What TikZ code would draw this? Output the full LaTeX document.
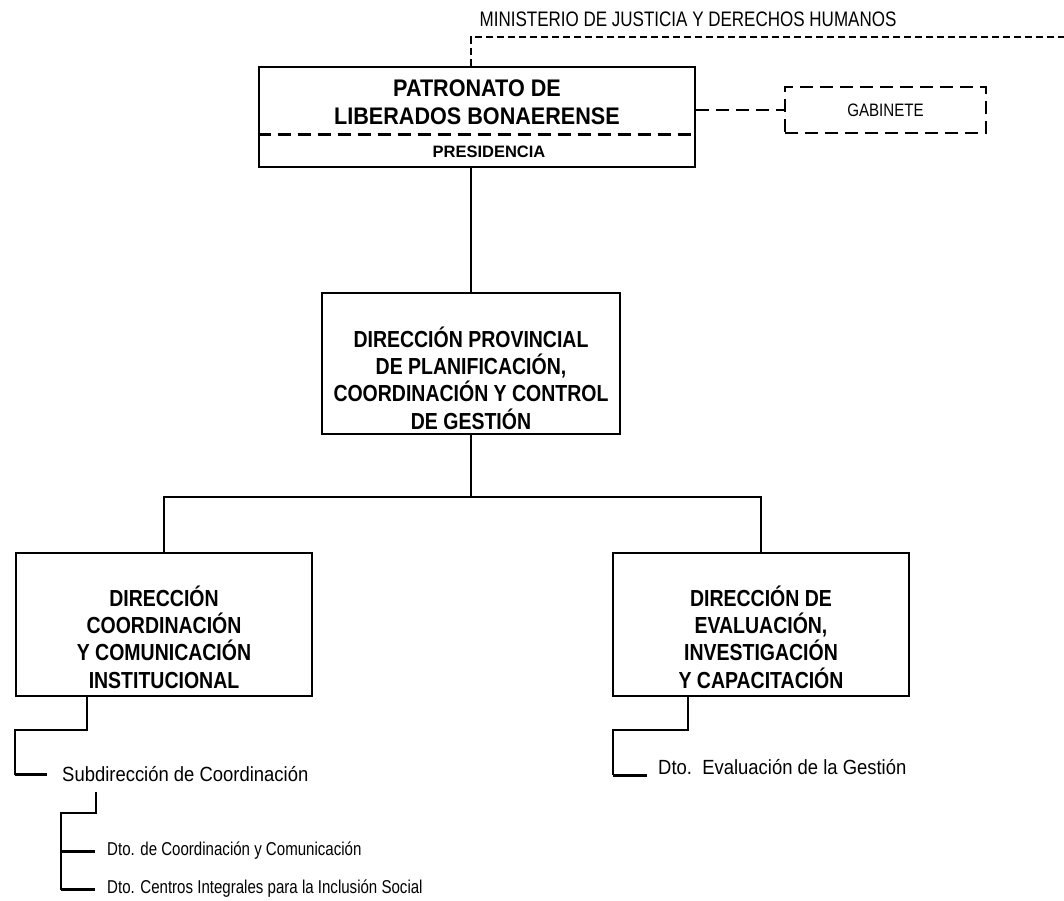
\documentclass[tikz,border=0pt]{standalone}
\usepackage{fontspec}
\setmainfont{Liberation Sans}
\newfontfamily\narrowfont[FakeStretch=0.84]{Liberation Sans}
\newfontfamily\slimfont[FakeStretch=0.81]{Liberation Sans}
\newfontfamily\semifont[FakeStretch=0.9]{Liberation Sans}
\usetikzlibrary{positioning,calc}

\begin{document}
\begin{tikzpicture}[x=1pt,y=-1pt,
  mybox/.style={draw,line width=2.6pt,inner sep=0pt},
  mytitle/.style={align=center,inner sep=0pt,font=\narrowfont\bfseries\fontsize{23.2}{27.3}\selectfont},
  myunit/.style={anchor=west,inner ysep=0pt,inner xsep=15pt,font=\semifont\fontsize{20.5}{24}\selectfont},
  mydto/.style={anchor=west,inner ysep=0pt,inner xsep=12pt,font=\slimfont\fontsize{18.6}{22}\selectfont},
  myline/.style={line width=1.3pt},
  mystub/.style={line width=3pt},
  mydash/.style={line width=2.6pt,dash pattern=on 13pt off 7pt},
  mythin/.style={line width=1.3pt,dash pattern=on 7pt off 4pt},
 ]
\useasboundingbox (0,0) rectangle (1064,900);

% ministerio
\node[inner sep=0pt,font=\slimfont\fontsize{21}{25}\selectfont] (M) at (688,19) {MINISTERIO DE JUSTICIA Y DERECHOS HUMANOS};
\coordinate (m0) at (471,37);
\coordinate (m1) at (1064,37);

% patronato
\node[mybox,minimum width=436,minimum height=100] (P) at (477,117) {};
\node[inner sep=0pt,align=center,font=\semifont\bfseries\fontsize{24}{28}\selectfont] (Pt) at (477,102) {PATRONATO DE\\LIBERADOS BONAERENSE};
\node[inner sep=0pt,font=\bfseries\fontsize{16.5}{20}\selectfont] (Pr) at (489,152) {PRESIDENCIA};
\draw[mydash] ($(P.north west)+(0,69)$) -- ($(P.north east)+(0,69)$);

\node[draw,mydash,minimum width=201,minimum height=46,inner sep=0pt,
  font=\narrowfont\fontsize{18}{22}\selectfont] (G) at (885.5,110) {GABINETE};

% direcciones
\node[mybox,minimum width=298,minimum height=141] (D) at (471,363.5) {};
\node[mytitle,yshift=-14.5pt] (Dt) at (D.center) {DIRECCIÓN PROVINCIAL\\DE PLANIFICACIÓN,\\COORDINACIÓN Y CONTROL\\DE GESTIÓN};

\node[mybox,minimum width=296,minimum height=143] (L) at (164,624.5) {};
\node[mytitle,yshift=-12.5pt] (Lt) at (L.center) {DIRECCIÓN\\COORDINACIÓN\\Y COMUNICACIÓN\\INSTITUCIONAL};

\node[mybox,minimum width=296,minimum height=143] (R) at (761,624.5) {};
\node[mytitle,yshift=-12.5pt] (Rt) at (R.center) {DIRECCIÓN DE\\EVALUACIÓN,\\INVESTIGACIÓN\\Y CAPACITACIÓN};

% dependencias
\node[myunit] (S) at (47,774) {Subdirección de Coordinación};
\node[mydto] (T1) at (95,851) {Dto. de Coordinación y Comunicación};
\node[mydto] (T2) at (95,889) {Dto. Centros Integrales para la Inclusión Social};
\node[myunit,inner xsep=11pt] (E) at (647,767) {Dto.\ \ Evaluación de la Gestión};

\coordinate (bus) at (471,497);
\coordinate (l1) at (87,730);
\coordinate (l2) at (15,730);
\coordinate (s0) at (96,792);
\coordinate (s1) at (96,813);
\coordinate (s2) at (61,813);
\coordinate (r1) at (688,730);
\coordinate (r2) at (613,730);
\coordinate (r3) at (613,775);

\draw[mythin] (P.north -| m0) -- (m0) -- (m1);
\draw[mydash] (G.west -| P.east) -- (G.west);
\draw[myline] (D.north) -- (D.north |- P.south);
\draw[myline] (D.south) -- (bus);
\draw[myline] (L.north) |- (bus) -| (R.north);

\draw[myline] (L.south -| l1) -- (l1) -- (l2) |- (S.west);
\draw[mystub] (S.west -| l2) -- (S.west);
\draw[myline] (s0) -- (s1) -- (s2) |- (T2.west);
\draw[mystub] (T1.west -| s2) -- (T1.west);
\draw[mystub] (T2.west -| s2) -- (T2.west);
\draw[myline] (R.south -| r1) -- (r1) -- (r2) -- (r3);
\draw[mystub] (r3) -- (r3 -| E.west);

\end{tikzpicture}
\end{document}
